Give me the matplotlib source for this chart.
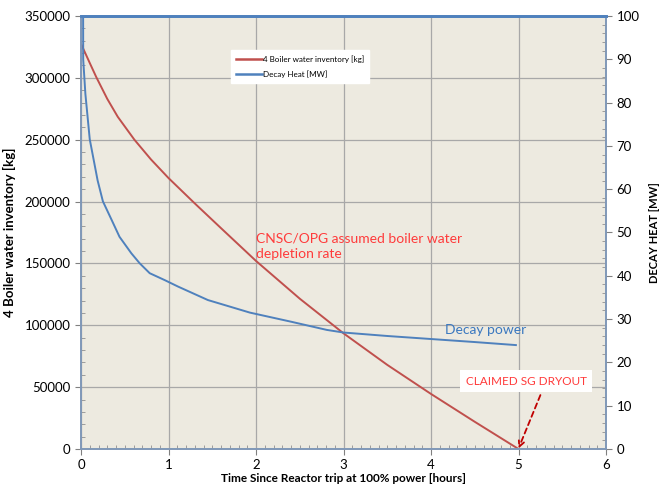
import matplotlib
matplotlib.use('Agg')
import matplotlib.pyplot as plt
from matplotlib.ticker import MultipleLocator

# datos
inv_t = [0, 0.1, 0.175, 0.3, 0.42, 0.61, 0.8, 1.0, 1.3, 1.6, 2.0, 2.5, 3.0, 3.5, 4.0, 4.5, 5.0]
inv_kg = [327500, 312000, 300500, 283000, 268500, 250000, 234000, 219000, 198500, 178500,
          152000, 121500, 93500, 68000, 44500, 22000, 0]

decay_t = [0.022, 0.025, 0.05, 0.1, 0.19, 0.25, 0.35, 0.44, 0.575, 0.67, 0.785, 0.957,
           1.11, 1.45, 1.93, 2.4, 2.81, 3.0, 3.5, 4.0, 4.5, 4.97]
decay_mw = [130, 90, 82, 71.5, 62, 57.2, 52.9, 49.0, 45.2, 42.9, 40.6, 39.0,
            37.5, 34.4, 31.5, 29.4, 27.5, 26.9, 26.1, 25.4, 24.7, 24.0]

x_ticks = [0, 1, 2, 3, 4, 5, 6]
left_ticks = [0, 50000, 100000, 150000, 200000, 250000, 300000, 350000]
right_ticks = [0, 10, 20, 30, 40, 50, 60, 70, 80, 90, 100]

plt.rcParams['font.family'] = ['Lato', 'DejaVu Sans']

red = '#C0504D'
blue = '#4F81BD'
spine_c = '#8098B8'

fig = plt.figure(figsize=(6.64, 4.91), dpi=100)
ax = fig.add_axes([0.122, 0.0855, 0.7907, 0.882])
ax.set_facecolor('#EDEAE0')
ax2 = ax.twinx()
ax2.patch.set_visible(False)

l1, = ax.plot(inv_t, inv_kg, color=red, lw=1.4, label='4 Boiler water inventory [kg]')
l2, = ax2.plot(decay_t, decay_mw, color=blue, lw=1.4, label='Decay Heat [MW]')

ax.set_xlim(0, 6)
ax.set_ylim(0, 350000)
ax2.set_ylim(0, 100)
ax.set_xticks(x_ticks)
ax.set_yticks(left_ticks)
ax2.set_yticks(right_ticks)
ax.xaxis.set_minor_locator(MultipleLocator(0.1))
ax.yaxis.set_minor_locator(MultipleLocator(10000))
ax2.yaxis.set_minor_locator(MultipleLocator(2))

ax.grid(True, which='major', color='#A8A8A8', lw=0.9)
ax.set_axisbelow(True)

for a in (ax, ax2):
    a.tick_params(which='major', direction='out', length=4, color='#808080', labelsize=9.5)
    a.tick_params(which='minor', direction='in', length=3, color='#909090')
    for s in a.spines.values():
        s.set_color(spine_c)
        s.set_linewidth(1.2)
    a.spines['top'].set_color(blue)
    a.spines['top'].set_linewidth(2)

ax.set_xlabel('Time Since Reactor trip at 100% power [hours]', fontsize=8.5,
              fontweight='bold', labelpad=1)
ax.set_ylabel('4 Boiler water inventory [kg]', fontsize=9.5, fontweight='bold', labelpad=6)
ax2.set_ylabel('DECAY HEAT [MW]', fontsize=8, fontweight='bold', labelpad=7)

leg = ax.legend(handles=[l1, l2], loc='upper left', bbox_to_anchor=(0.286, 0.921),
                borderaxespad=0, fontsize=5.8, frameon=True, fancybox=False,
                handlelength=3.2, handletextpad=0.1, borderpad=0.6, labelspacing=0.9)
leg.get_frame().set_edgecolor('white')
leg.get_frame().set_alpha(1)
for h in leg.get_lines():
    h.set_linewidth(1.8)

ax.text(2.0, 164000, 'CNSC/OPG assumed boiler water\ndepletion rate', color='#FF3B3B',
        fontsize=10, ha='left', va='center', linespacing=1.3)
ax.text(4.16, 96000, 'Decay power', color='#3A78C0', fontsize=10, ha='left', va='center')
ax.text(5.09, 54900, 'CLAIMED SG DRYOUT', color='#FF3B3B', fontsize=8.5,
        ha='center', va='center',
        bbox=dict(facecolor='white', edgecolor='none', pad=4))
ax.annotate('', xy=(5.0, 500), xytext=(5.25, 43600),
            arrowprops=dict(arrowstyle='->', color='#C00000', lw=1.3,
                            linestyle=(0, (3, 2)), shrinkA=0, shrinkB=0))

fig.savefig('out.png', dpi=100, facecolor='white')
